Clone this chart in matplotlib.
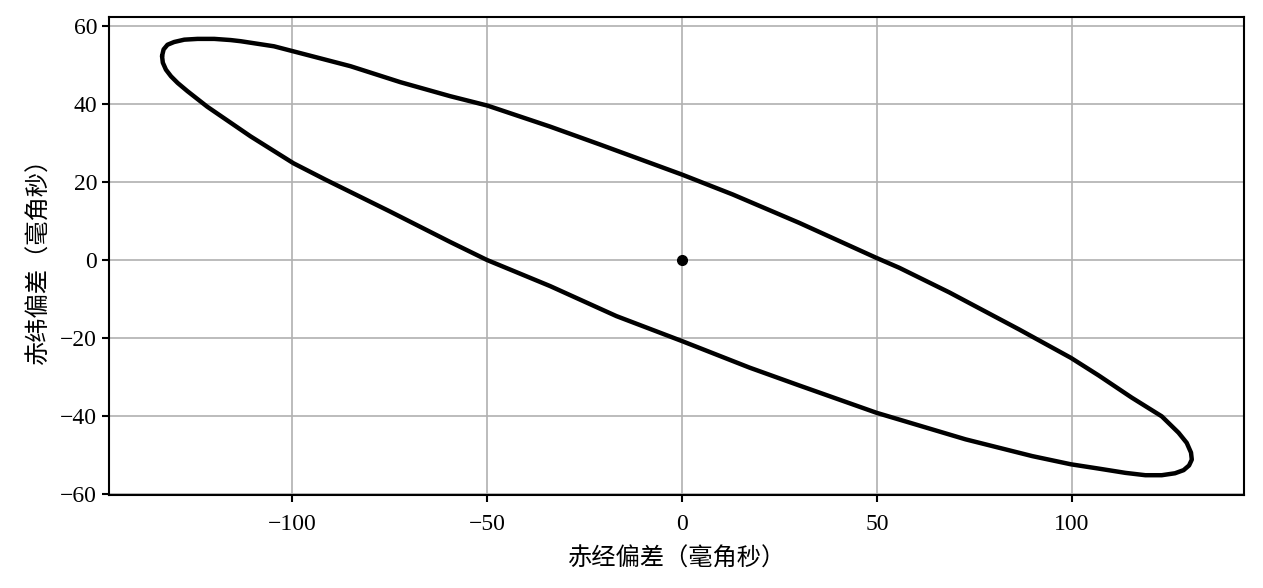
import numpy as np
import matplotlib
matplotlib.use("Agg")
import matplotlib.pyplot as plt

plt.rcParams['font.family'] = ['Liberation Serif', 'Noto Sans CJK SC', 'DejaVu Sans']
plt.rcParams['axes.unicode_minus'] = True

# points, going round it (mas)
ra_offset = [
    -133.3, -132.9, -131.9, -130.2, -127.6, -124.2, -119.9, -115.7, -113.1,
    -104.6, -99.6, -85.0, -72.2, -59.4, -49.9, -33.8, -21.0, 0.0, 13.0,
    30.1, 49.7, 55.7, 68.5, 86.4, 99.7, 106.8, 115.3, 123.0, 127.3, 129.4,
    130.5, 130.7, 130.0, 128.6, 126.4, 123.0, 118.8, 113.7, 106.8, 99.7,
    89.8, 72.7, 49.9, 30.1, 17.3, 0.0, -16.8, -33.8, -50.0, -59.4, -75.0,
    -91.4, -99.6, -110.6, -121.7, -126.8, -129.3, -131.0, -132.3, -133.1,
    -133.3,
]
dec_offset = [
    52.3, 54.0, 55.2, 55.9, 56.5, 56.7, 56.7, 56.4, 56.1,
    54.8, 53.5, 49.7, 45.6, 42.0, 39.6, 34.2, 29.6, 21.9, 16.8,
    9.5, 0.6, -2.0, -8.3, -17.8, -25.1, -29.6, -35.3, -40.1, -44.3, -46.9,
    -49.4, -51.2, -52.7, -53.9, -54.7, -55.2, -55.2, -54.6, -53.5, -52.4,
    -50.3, -46.0, -39.2, -32.2, -27.6, -20.8, -14.4, -6.7, 0.0, 4.6, 12.5,
    20.6, 24.8, 31.7, 39.3, 43.3, 45.4, 47.1, 48.8, 50.6,
    52.3,
]
center = (0.0, 0.0)

fig = plt.figure(figsize=(12.63, 5.88), dpi=100)
ax = fig.add_axes([0.0863, 0.158, 0.8987, 0.813])

ax.plot(ra_offset, dec_offset, color='black', lw=3.2,
        solid_joinstyle='round', solid_capstyle='round', zorder=3)
ax.plot(*center, 'o', color='black', ms=7, zorder=4)

ax.set_xlim(-146.9, 144.1)
ax.set_ylim(-60.3, 62.3)
ax.set_xticks([-100, -50, 0, 50, 100])
ax.set_yticks([-60, -40, -20, 0, 20, 40, 60])
ax.grid(True, color='#b0b0b0', lw=1.2)
ax.set_axisbelow(True)

for s in ax.spines.values():
    s.set_linewidth(1.5)
ax.tick_params(labelsize=17, width=1.5, length=5, colors='black')
ax.tick_params(axis='x', pad=8.5)

cjk = ['Noto Sans CJK SC', 'DejaVu Sans']
ax.set_xlabel('赤经偏差（毫角秒）', fontsize=17.5, family=cjk, labelpad=8)
ax.set_ylabel('赤纬偏差（毫角秒）', fontsize=17.5, family=cjk, labelpad=6)

fig.savefig('out.png', dpi=100)
